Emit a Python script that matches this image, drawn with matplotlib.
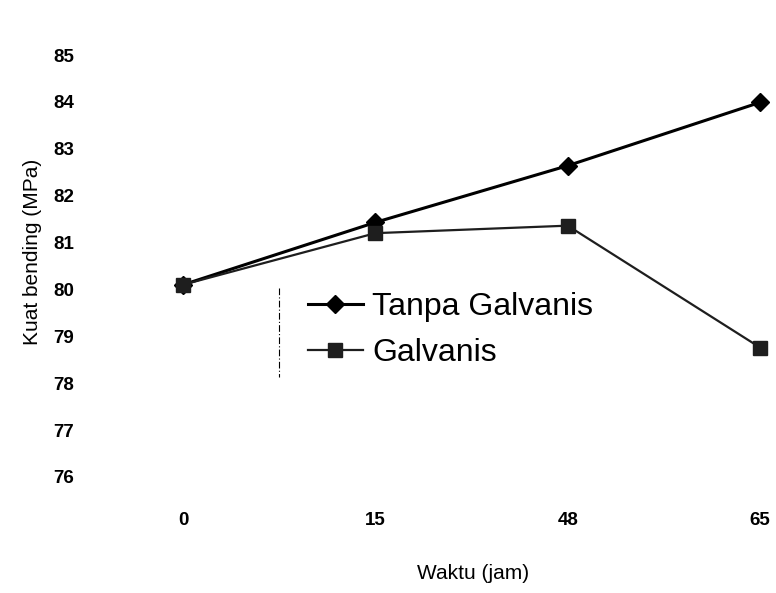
import numpy as np
import matplotlib.pyplot as plt
from matplotlib.lines import Line2D

# bending strength vs. time, with and without galvanising

waktu = ['0', '15', '48', '65']
tanpa_galvanis = [80.1, 81.43, 82.64, 83.99]
galvanis = [80.1, 81.2, 81.36, 78.76]
y_ticks = [76, 77, 78, 79, 80, 81, 82, 83, 84, 85]

plt.rcParams['font.family'] = ['Liberation Sans', 'DejaVu Sans']

fig = plt.figure(figsize=(7.76, 5.93), dpi=100)
ax = fig.add_axes([85/776, 88/593, 691/776, 464/593])

x = np.arange(len(waktu))
ax.plot(x, tanpa_galvanis, c='black', lw=2.2, marker='D', ms=9,
        label='Tanpa Galvanis', clip_on=False)
ax.plot(x, galvanis, c='#1e1e1e', lw=1.6, marker='s', ms=10,
        label='Galvanis', clip_on=False)

ax.set_xlim(-0.51, 3.083)
ax.set_ylim(75.4, 85.3)
ax.set_xticks(x)
ax.set_xticklabels(waktu)
ax.set_yticks(y_ticks)
ax.tick_params(length=0, labelsize=13.5)
for lab in ax.get_xticklabels() + ax.get_yticklabels():
    lab.set_fontweight('bold')
ax.tick_params(axis='y', pad=8)
ax.tick_params(axis='x', pad=5)
for s in ax.spines.values():
    s.set_visible(False)

ax.set_ylabel('Kuat bending (MPa)', fontsize=15)
ax.yaxis.set_label_coords(-0.062, 0.545)
ax.set_xlabel('Waktu (jam)', fontsize=15)
ax.xaxis.set_label_coords(0.5615, -0.127)

ax.legend(loc='center left', bbox_to_anchor=(308/776, 1-330/593),
          bbox_transform=fig.transFigure, frameon=False, fontsize=23,
          handlelength=1.72, handletextpad=0.28, labelspacing=0.5,
          borderpad=0, borderaxespad=0)

# faint dotted edge left over from the legend frame
fig.add_artist(Line2D([279/776, 279/776], [1-288/593, 1-377/593],
                      transform=fig.transFigure, c='black', lw=0.8, ls=(0, (6, 2, 1, 2))))

fig.savefig('out.png', dpi=100)
